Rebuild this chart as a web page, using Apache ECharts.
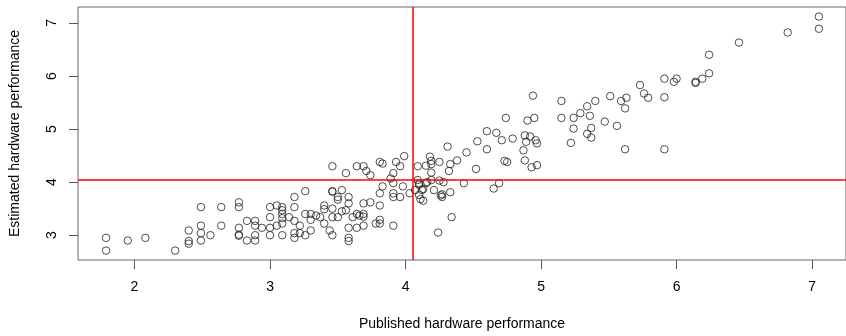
<!DOCTYPE html>
<html>
<head>
<meta charset="utf-8">
<script src="https://cdn.jsdelivr.net/npm/echarts@6/dist/echarts.min.js"></script>
<style>
  html, body { margin: 0; padding: 0; background: #fff; }
  #chart { width: 846px; height: 336px; }
</style>
</head>
<body>
<div id="chart"></div>
<script>
// published (x) vs estimated (y) hardware performance
const published = [
  1.79, 1.79, 1.95, 2.08, 2.30, 2.40, 2.40, 2.40, 2.49, 2.49, 2.49, 2.49, 2.56, 2.64, 2.64,
  2.77, 2.77, 2.77, 2.77, 2.77, 2.83, 2.83, 2.89, 2.89, 2.89, 2.89, 2.94, 3.00, 3.00, 3.00,
  3.00, 3.05, 3.05, 3.09, 3.09, 3.09, 3.09, 3.09, 3.09, 3.14, 3.18, 3.18, 3.18, 3.18, 3.18,
  3.22, 3.22, 3.26, 3.26, 3.26, 3.30, 3.30, 3.30, 3.34, 3.37, 3.40, 3.40, 3.40, 3.44, 3.46,
  3.46, 3.46, 3.46, 3.46, 3.46, 3.50, 3.50, 3.50, 3.53, 3.53, 3.56, 3.56, 3.58, 3.58, 3.58,
  3.58, 3.58, 3.61, 3.64, 3.64, 3.64, 3.66, 3.69, 3.69, 3.69, 3.69, 3.69, 3.71, 3.74, 3.74,
  3.78, 3.81, 3.81, 3.81, 3.81, 3.81, 3.83, 3.83, 3.89, 3.91, 3.91, 3.91, 3.91, 3.91, 3.93,
  3.96, 3.96, 3.98, 3.99, 4.03,
  4.09, 4.15, 4.18, 4.19, 4.25, 4.19, 4.19, 4.32, 4.33, 4.38, 4.31, 4.45, 4.52, 4.53, 4.60,
  4.60, 4.67, 4.71, 4.74, 4.79, 4.73, 4.75, 4.65, 4.69, 4.43, 4.33, 4.27, 4.26, 4.27, 4.34,
  4.24, 4.25, 4.28, 4.21, 4.19, 4.15, 4.13, 4.10, 4.09, 4.10, 4.11, 4.13, 4.07, 4.12, 4.16,
  4.10, 4.94, 4.87, 4.88, 4.88, 4.89, 4.90, 4.92, 4.93, 4.95, 4.96, 4.97, 4.97, 5.15, 5.15,
  5.22, 5.24, 5.24, 5.29, 5.34, 5.36, 5.37, 5.34, 5.37, 5.40, 5.47, 5.51, 5.56, 5.59, 5.63,
  5.62, 5.62, 5.73, 5.76, 5.79, 5.91, 5.91, 5.91, 5.98, 6.00, 6.14, 6.14, 6.19, 6.24, 6.24,
  6.46, 6.82, 7.05, 7.05
]
const estimated = [
  2.95, 2.71, 2.90, 2.95, 2.71, 3.09, 2.89, 2.84, 3.53, 3.18, 3.04, 2.90, 3.00, 3.53, 3.18,
  3.62, 3.53, 3.14, 3.01, 2.99, 3.27, 2.90, 3.27, 3.18, 3.00, 2.90, 3.14, 3.53, 3.34, 3.14,
  3.00, 3.18, 3.56, 3.53, 3.47, 3.40, 3.32, 3.22, 3.00, 3.34, 3.72, 3.53, 3.27, 3.04, 2.95,
  3.18, 3.04, 3.83, 3.40, 3.00, 3.40, 3.29, 3.09, 3.37, 3.34, 3.56, 3.49, 3.22, 3.09, 4.30,
  3.83, 3.82, 3.50, 3.34, 3.00, 3.72, 3.67, 3.34, 3.85, 3.45, 4.17, 3.47, 3.72, 3.60, 3.14,
  2.95, 2.89, 3.34, 4.30, 3.40, 3.14, 3.37, 4.30, 3.60, 3.40, 3.35, 3.18, 4.21, 4.13, 3.62,
  3.22, 4.38, 3.79, 3.56, 3.29, 3.22, 4.35, 3.92, 4.07, 4.17, 3.98, 3.79, 3.72, 3.18, 4.38,
  4.30, 3.72, 3.92, 4.49, 3.79,
  4.30, 4.31, 4.48, 4.40, 4.38, 4.34, 4.18, 4.21, 4.34, 4.41, 4.67, 4.56, 4.25, 4.77, 4.96,
  4.62, 4.93, 4.79, 5.21, 4.82, 4.40, 4.38, 3.88, 3.98, 3.98, 3.81, 3.77, 3.75, 3.72, 3.34,
  3.05, 4.03, 4.00, 3.85, 4.04, 3.98, 3.87, 3.95, 4.04, 3.76, 3.68, 3.65, 3.85, 3.85, 4.00,
  3.98, 5.63, 4.60, 4.88, 4.41, 4.76, 5.16, 4.86, 4.28, 5.21, 4.79, 4.73, 4.32, 5.21, 5.53,
  4.74, 5.21, 5.01, 5.30, 5.43, 5.25, 5.02, 4.91, 4.84, 5.53, 5.14, 5.62, 5.06, 5.53, 5.59,
  5.39, 4.62, 5.83, 5.67, 5.59, 5.95, 5.60, 4.62, 5.89, 5.95, 5.89, 5.87, 5.95, 6.05, 6.40,
  6.63, 6.82, 7.12, 6.89
]
const xTicks = [2, 3, 4, 5, 6, 7]
const yTicks = [3, 4, 5, 6, 7]
const meanX = 4.05
const meanY = 4.04

const points = published.map((x, i) => [x, estimated[i]])
const font = 'Liberation Sans, Arial, sans-serif'

const chart = echarts.init(document.getElementById('chart'))
chart.setOption({
  animation: false,
  grid: {
    left: 78,
    top: 7,
    width: 770,
    height: 255,
    show: true,
    borderColor: '#666',
    borderWidth: 1
  },
  xAxis: {
    type: 'value',
    min: 1.583,
    max: 7.25,
    name: 'Published hardware performance',
    nameLocation: 'middle',
    nameGap: 57,
    nameTextStyle: { color: '#000', fontSize: 14, fontFamily: font },
    splitLine: { show: false },
    axisLine: { show: false },
    axisTick: { show: true, inside: false, length: 9, customValues: xTicks, lineStyle: { color: '#555' } },
    axisLabel: { customValues: xTicks, margin: 20, color: '#000', fontSize: 14, fontFamily: font }
  },
  yAxis: {
    type: 'value',
    min: 2.533,
    max: 7.3,
    name: 'Estimated hardware performance',
    nameLocation: 'middle',
    nameGap: 56,
    nameTextStyle: { color: '#000', fontSize: 14, fontFamily: font },
    splitLine: { show: false },
    axisLine: { show: false },
    axisTick: { show: true, inside: false, length: 9, customValues: yTicks, lineStyle: { color: '#555' } },
    axisLabel: { customValues: yTicks, rotate: 90, margin: 19, color: '#000', fontSize: 14, fontFamily: font }
  },
  series: [
    {
      type: 'scatter',
      data: points,
      symbol: 'circle',
      symbolSize: 7.5,
      itemStyle: { color: 'transparent', borderColor: '#222', borderWidth: 1 },
      markLine: {
        silent: true,
        symbol: 'none',
        label: { show: false },
        lineStyle: { color: '#f00', type: 'solid', width: 1.5 },
        data: [{ xAxis: meanX }, { yAxis: meanY }]
      }
    }
  ]
})
</script>
</body>
</html>
